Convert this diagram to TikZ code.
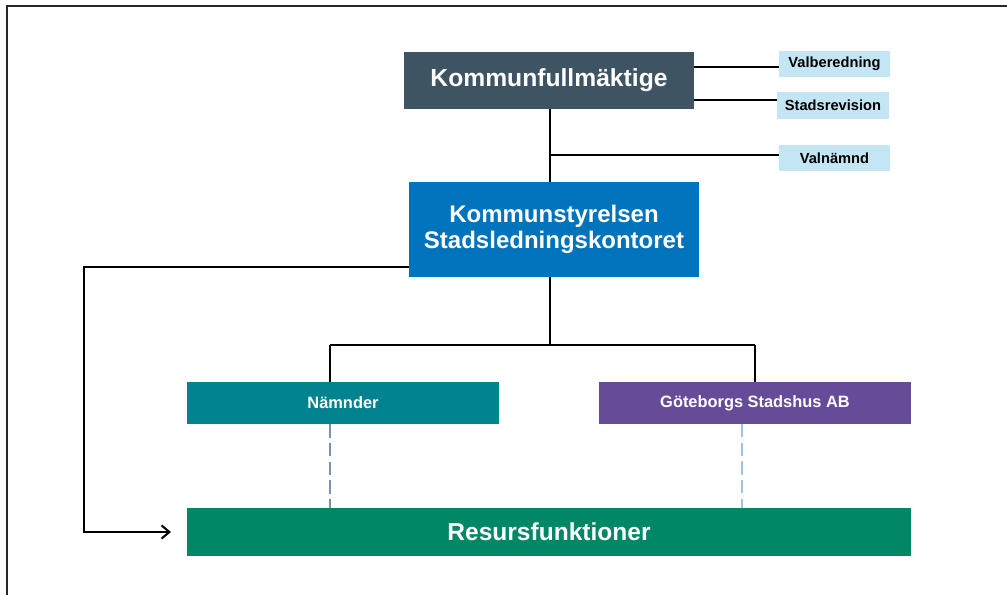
\documentclass[tikz,border=0pt]{standalone}
\usepackage{fontspec}
\setmainfont{Liberation Sans}
\usetikzlibrary{arrows.meta}
\definecolor{kfcol}{HTML}{3E5463}
\definecolor{kscol}{HTML}{0073BD}
\definecolor{nmcol}{HTML}{00838F}
\definecolor{gscol}{HTML}{664B99}
\definecolor{rfcol}{HTML}{008765}
\definecolor{lbcol}{HTML}{C4E5F3}
\definecolor{dash1}{HTML}{7A92AA}
\definecolor{dash2}{HTML}{9DC3E6}
\tikzset{
  box/.style={inner sep=0pt, align=center, text=white, font=\bfseries},
  smallbox/.style={inner sep=0pt, fill=lbcol, text=black, font=\bfseries\fontsize{11}{13}\selectfont, minimum width=83.25pt, minimum height=19.5pt},
  conn/.style={line width=1.5pt, black},
  dconn/.style={line width=0.9pt, dash pattern=on 10pt off 4pt}
}
\begin{document}
\begin{tikzpicture}[x=0.75pt,y=-0.75pt]
\useasboundingbox (0,0) rectangle (1007,595);
\draw[line width=1pt, black!85] (7,595) -- (7,6) -- (1007,6);

\node[box, fill=kfcol, minimum width=217.5pt, minimum height=42.75pt, font=\bfseries\fontsize{18.5}{22}\selectfont] (kf) at (549,80.5) {Kommunfullmäktige};
\node[smallbox] (valb) at (834.5,64) {Valberedning};
\node[smallbox, minimum width=84pt, minimum height=20.25pt] (srev) at (833,105.5) {Stadsrevision};
\node[smallbox] (valn) at (834.5,158) {Valnämnd};
\node[box, fill=kscol, minimum width=217.5pt, minimum height=71.25pt, font=\bfseries\fontsize{18}{20}\selectfont] (ks) at (554,229.5) {Kommunstyrelsen\\Stadsledningskontoret};
\node[box, fill=nmcol, minimum width=234pt, minimum height=31.5pt, font=\bfseries\fontsize{12.3}{14}\selectfont] (nm) at (343,403) {Nämnder};
\node[box, fill=gscol, minimum width=234pt, minimum height=31.5pt, font=\bfseries\fontsize{12.3}{14}\selectfont] (gs) at (755,403) {Göteborgs Stadshus AB};
\node[box, fill=rfcol, minimum width=543pt, minimum height=36pt, font=\bfseries\fontsize{18.4}{22}\selectfont] (rf) at (549,532) {Resursfunktioner};

\coordinate (kfa) at (694,67);
\coordinate (kfb) at (694,100);
\coordinate (kfs) at (550,109);
\coordinate (kst) at (550,182);
\coordinate (vj) at (550,155);
\coordinate (ksw) at (409,267);
\coordinate (lb1) at (84,267);
\coordinate (lb2) at (84,532);
\coordinate (arr) at (171,532);
\coordinate (ksb) at (550,277);
\coordinate (hj) at (550,345);
\coordinate (hl) at (330,345);
\coordinate (hr) at (755,345);

\draw[conn] (kfa) -- (kfa -| valb.west);
\draw[conn] (kfb) -- (kfb -| srev.west);
\draw[conn] (kfs) -- (kst);
\draw[conn] (vj) -- (vj -| valn.west);
\draw[conn, -{Straight Barb[length=6pt,width=10pt]}] (ksw) -- (lb1) -- (lb2) -- (arr);
\draw[conn] (ksb) -- (hj);
\draw[conn] (hl) -- (hr);
\draw[conn] (hl) -- (hl |- nm.north);
\draw[conn] (hr) -- (gs.north);
\draw[dconn, dash1] (nm.south -| hl) -- (rf.north -| hl);
\draw[dconn, dash2] (742,424) -- (rf.north -| 742,0);
\end{tikzpicture}
\end{document}
